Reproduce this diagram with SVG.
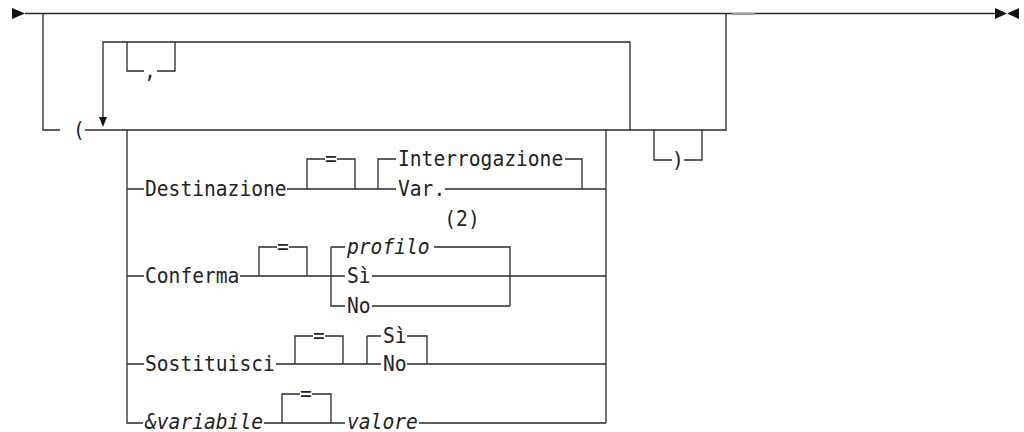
<svg xmlns="http://www.w3.org/2000/svg" width="1024" height="432" viewBox="0 0 1024 432">
<style>
.c path{fill:none;stroke:#2a2a2a;stroke-width:1.3}
.c polygon{fill:#111;stroke:none}
text{font-family:"DejaVu Sans Mono","Liberation Mono",monospace;font-size:21.3px;fill:#222}
.i{font-style:italic}
.m{text-anchor:middle}
</style>
<rect width="1024" height="432" fill="#fff"/>
<g id="connectors" class="c">
<path d="M25,13.5 H995"/>
<polygon points="12,8 25,13.5 12,19"/>
<polygon points="995,8 1007,13.5 995,19"/>
<polygon points="1019,8 1007,13.5 1019,19"/>
<path d="M732,14 H755" style="stroke:#999;stroke-width:2.2"/>
<path d="M43,13.5 V130 H60"/>
<path d="M85,130 H726 V13.5"/>
<path d="M103,117 V42 H630 V130"/>
<polygon points="99,117 107,117 103,127"/>
<path d="M127,42 V71 H144 M157,71 H175 V42"/>
<path d="M127,130 V423 H143 M127,189 H144 M127,276 H144 M127,364 H144"/>
<path d="M606,130 V423"/>
<path d="M287,189 H396 M307,189 V159 H325 M337,159 H355 V189 M378,189 V159 H396 M445,189 H606 M565,159 H582 V189"/>
<path d="M240,276 H345 M259,276 V247 H277 M289,247 H307 V276 M331,247 V306 H345 M331,247 H345 M434,247 H510 V306 M372,306 H510 M372,276 H606"/>
<path d="M276,364 H381 M295,364 V336 H313 M325,336 H343 V364 M367,336 V364 M367,336 H381 M407,336 H427 V364 M407,364 H606"/>
<path d="M264,423 H345 M282,423 V394 H300 M312,394 H331 V423 M419,423 H606"/>
<path d="M654,130 V160 H672 M684,160 H702 V130"/>
</g>
<g id="comma"><text x="150" y="78" class="m" textLength="11.8" lengthAdjust="spacingAndGlyphs">,</text></g>
<g id="lparen"><text x="79" y="137" class="m" textLength="11.8" lengthAdjust="spacingAndGlyphs">(</text></g>
<g id="rparen"><text x="678" y="167" class="m" textLength="11.8" lengthAdjust="spacingAndGlyphs">)</text></g>
<g id="destinazione">
<text x="145" y="196" textLength="141.6" lengthAdjust="spacingAndGlyphs">Destinazione</text>
<text x="331" y="165.5" class="m" textLength="11.8" lengthAdjust="spacingAndGlyphs">=</text>
<text x="398" y="166" textLength="165.2" lengthAdjust="spacingAndGlyphs">Interrogazione</text>
<text x="398" y="196" textLength="47.2" lengthAdjust="spacingAndGlyphs">Var.</text>
</g>
<g id="note2"><text x="462" y="226" class="m" textLength="35.4" lengthAdjust="spacingAndGlyphs">(2)</text></g>
<g id="conferma">
<text x="145" y="283" textLength="94.4" lengthAdjust="spacingAndGlyphs">Conferma</text>
<text x="283" y="253.5" class="m" textLength="11.8" lengthAdjust="spacingAndGlyphs">=</text>
<text x="347" y="254" class="i" textLength="82.6" lengthAdjust="spacingAndGlyphs">profilo</text>
<text x="347" y="283" textLength="23.6" lengthAdjust="spacingAndGlyphs">Sì</text>
<text x="347" y="313" textLength="23.6" lengthAdjust="spacingAndGlyphs">No</text>
</g>
<g id="sostituisci">
<text x="145" y="371" textLength="129.8" lengthAdjust="spacingAndGlyphs">Sostituisci</text>
<text x="319" y="342.5" class="m" textLength="11.8" lengthAdjust="spacingAndGlyphs">=</text>
<text x="383" y="343" textLength="23.6" lengthAdjust="spacingAndGlyphs">Sì</text>
<text x="383" y="371" textLength="23.6" lengthAdjust="spacingAndGlyphs">No</text>
</g>
<g id="variabile">
<text x="145" y="429" class="i" textLength="118" lengthAdjust="spacingAndGlyphs">&amp;variabile</text>
<text x="306" y="400.5" class="m" textLength="11.8" lengthAdjust="spacingAndGlyphs">=</text>
<text x="347" y="429" class="i" textLength="70.8" lengthAdjust="spacingAndGlyphs">valore</text>
</g>
</svg>
